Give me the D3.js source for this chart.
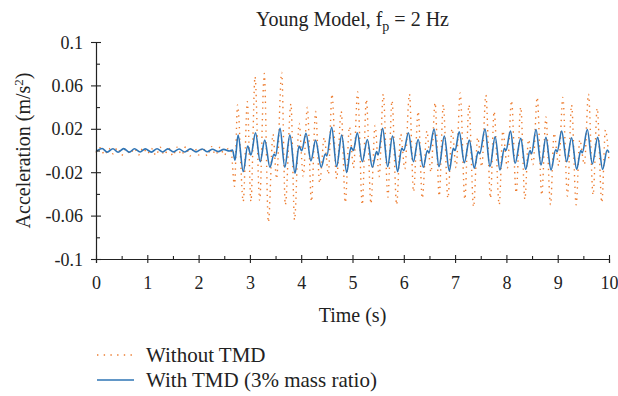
<!DOCTYPE html>
<html><head><meta charset="utf-8">
<script src="https://cdn.jsdelivr.net/npm/d3@7"></script>
<style>
html,body{margin:0;padding:0;background:#fff;}
svg text{font-family:"Liberation Serif","DejaVu Serif",serif;fill:#222;}
</style></head>
<body>
<svg id="chart" width="618" height="396"></svg>
<script>
// ---- data ----
const xTicks = [0,1,2,3,4,5,6,7,8,9,10];
const xMinorTicks = [0.5,1.5,2.5,3.5,4.5,5.5,6.5,7.5,8.5,9.5];
const yTicks = [0.1,0.06,0.02,-0.02,-0.06,-0.1];
const yTickLabels = ["0.1","0.06","0.02","-0.02","-0.06","-0.1"];
const yMinorTicks = [0.08,0.04,0,-0.04,-0.08];
const seriesNames = ["Without TMD","With TMD (3% mass ratio)"];

// With TMD: turning points (time s, acceleration m/s^2)
const withT = [0,0.12,0.22,0.33,0.43,0.54,0.65,0.75,0.86,0.96,1.08,1.19,1.30,1.40,1.51,1.62,1.73,1.84,1.95,2.07,2.17,2.27,2.38,2.49,2.60,2.66,
 2.71,2.77,2.87,2.957,3.02,3.11,3.20,3.29,3.39,3.47,3.50,3.587,3.68,3.78,3.88,3.957,4.01,4.094,4.19,4.28,4.39,4.47,4.50,4.594,
 4.69,4.79,4.887,4.97,5.016,5.094,5.19,5.29,5.386,5.47,5.50,5.587,5.685,5.78,5.88,5.96,6.00,6.09,6.186,6.28,6.38,6.46,6.49,6.59,
 6.686,6.79,6.887,6.965,7.00,7.08,7.18,7.277,7.374,7.45,7.48,7.583,7.68,7.78,7.875,7.96,7.99,8.08,8.17,8.28,8.376,8.46,8.49,8.577,
 8.675,8.77,8.87,8.96,8.99,9.077,9.175,9.27,9.37,9.45,9.48,9.577,9.675,9.78,9.875,9.965,10.0];
const withV = [-0.001,0.0018,-0.0015,0.0016,-0.0016,0.0017,-0.0015,0.0016,-0.0014,0.0015,-0.0015,0.0016,-0.0014,0.0015,-0.0013,0.0014,-0.0014,0.0015,-0.0013,0.0014,-0.0012,0.0012,-0.0010,0.0010,-0.0005,0.0004,
 -0.009,0.0142,-0.0194,0.0041,-0.0041,0.0163,-0.0103,0.0096,-0.0154,-0.0035,-0.005,0.0204,-0.0154,0.0142,-0.021,0.0041,-0.0002,0.0158,-0.0096,0.0096,-0.0154,-0.0032,-0.005,0.0213,
 -0.0148,0.0142,-0.0203,0.0029,0.0,0.0163,-0.0103,0.0102,-0.0154,-0.001,-0.004,0.0204,-0.0148,0.0133,-0.0194,0.002,0.0,0.0163,-0.0103,0.0102,-0.0154,0.0,-0.002,0.0197,
 -0.0148,0.0133,-0.0188,0.002,0.0,0.0173,-0.0112,0.0096,-0.0163,-0.001,-0.003,0.0197,-0.0148,0.0127,-0.0179,0.002,0.0,0.0179,-0.0118,0.0112,-0.0173,0.0,-0.003,0.0194,
 -0.0133,0.0121,-0.0179,0.0006,-0.001,0.0179,-0.0103,0.0118,-0.0173,0.0,-0.002,0.0194,-0.0124,0.0121,-0.0173,0.0005,-0.002];

// Without TMD: turning points (time s, acceleration m/s^2)
const withoutT = [0,0.08,0.17,0.25,0.33,0.42,0.50,0.58,0.67,0.75,0.83,0.92,1.00,1.08,1.17,1.25,1.33,1.42,1.50,1.58,1.67,1.75,1.83,1.92,2.00,2.08,2.17,2.25,2.33,2.42,2.50,2.58,2.63,
 2.70,2.76,2.87,2.95,3.02,3.10,3.19,3.28,3.36,3.45,3.52,3.62,3.69,3.80,3.87,3.96,4.04,4.12,4.20,4.28,4.36,4.45,4.53,4.60,4.69,4.78,4.86,4.94,
 5.02,5.10,5.19,5.27,5.36,5.44,5.52,5.60,5.69,5.77,5.86,5.94,6.02,6.11,6.19,6.28,6.36,6.45,6.53,6.61,6.69,6.77,6.86,6.94,7.02,7.10,7.19,7.27,
 7.36,7.44,7.52,7.60,7.69,7.76,7.86,7.93,8.02,8.10,8.19,8.28,8.36,8.43,8.52,8.60,8.69,8.77,8.86,8.93,9.02,9.10,9.19,9.27,9.36,9.43,9.52,9.60,
 9.69,9.77,9.86,9.93,10.0];
const withoutV = [-0.002,0.0025,-0.004,0.002,-0.003,0.0025,-0.0045,0.0015,-0.003,0.002,-0.004,0.0025,-0.003,0.002,-0.0045,0.003,-0.004,0.002,-0.005,0.003,-0.004,0.0035,-0.005,0.0025,-0.004,0.003,-0.005,0.0035,-0.004,0.003,-0.0045,0.002,0.001,
 -0.033,0.042,-0.047,0.045,-0.047,0.068,-0.046,0.071,-0.066,0.015,-0.026,0.072,-0.050,0.043,-0.064,0.025,-0.024,0.040,-0.047,0.036,-0.030,0.012,-0.022,0.052,-0.026,0.036,-0.048,0.022,
 -0.016,0.054,-0.050,0.047,-0.049,0.023,-0.024,0.052,-0.043,0.046,-0.050,0.015,-0.017,0.052,-0.038,0.036,-0.044,0.018,-0.020,0.044,-0.042,0.042,-0.044,0.020,-0.016,0.053,-0.045,0.042,
 -0.052,0.012,-0.015,0.051,-0.044,0.036,-0.050,0.018,-0.016,0.046,-0.039,0.040,-0.045,0.010,-0.013,0.049,-0.041,0.031,-0.050,0.016,-0.014,0.049,-0.042,0.042,-0.050,0.010,-0.013,0.052,
 -0.041,0.039,-0.048,0.019,-0.010];

// ---- drawing ----
const svg = d3.select("#chart");
const margin = {left:96, right:9, top:42, bottom:137};
const W = 618, H = 396;
const x = d3.scaleLinear().domain([0,10]).range([margin.left, W - margin.right]);
const y = d3.scaleLinear().domain([-0.1,0.1]).range([H - margin.bottom, margin.top]);

const orange = "#ED7D31", blue = "#2E74B5", axisCol = "#222";
const FONT = "Liberation Serif, serif";

// series
const line = d3.line().x(d=>x(d[0])).y(d=>y(d[1])).curve(d3.curveMonotoneX);
const withoutData = withoutT.map((t,i)=>[t, withoutV[i]]);
const withData = withT.map((t,i)=>[t, withV[i]]);

svg.append("path").datum(withoutData).attr("d", line)
  .attr("fill","none").attr("stroke",orange).attr("stroke-width",1.4)
  .attr("stroke-dasharray","1.4,4.4");
svg.append("path").datum(withData).attr("d", line)
  .attr("fill","none").attr("stroke",blue).attr("stroke-width",1.6);

// y axis
const yAxis = svg.append("g").attr("transform",`translate(${x(0)},0)`)
  .call(d3.axisLeft(y).tickValues(yTicks).tickSize(5).tickPadding(8)
        .tickFormat((d,i)=>yTickLabels[i]));
yAxis.selectAll(".tick line").attr("x1",5);
yAxis.selectAll(".tick text").attr("dy","0.34em");
const yMinor = svg.append("g").attr("transform",`translate(${x(0)},0)`)
  .call(d3.axisRight(y).tickValues(yMinorTicks).tickSize(4).tickFormat(""));
yMinor.select(".domain").remove();

// x axis
const xAxis = svg.append("g").attr("transform",`translate(0,${y(-0.1)})`)
  .call(d3.axisBottom(x).tickValues(xTicks).tickSize(4).tickPadding(8).tickFormat(d3.format("d")));
xAxis.selectAll(".tick line").attr("y1",-4);
xAxis.selectAll(".tick text").attr("y",17).attr("dy","0.71em");
const xMinor = svg.append("g").attr("transform",`translate(0,${y(-0.1)})`)
  .call(d3.axisTop(x).tickValues(xMinorTicks).tickSize(3).tickFormat(""));
xMinor.select(".domain").remove();

svg.selectAll(".domain").attr("stroke",axisCol).attr("stroke-width",1.2);
svg.selectAll(".tick line").attr("stroke",axisCol).attr("stroke-width",1.1);
svg.selectAll(".tick text").attr("font-size",18).attr("font-family",FONT).attr("fill","#222");

// title
const title = svg.append("text").attr("x",(x(0)+x(10))/2).attr("y",26)
  .attr("text-anchor","middle").attr("font-size",20);
title.append("tspan").text("Young Model, f");
title.append("tspan").attr("font-size",14).attr("dy",5).text("p");
title.append("tspan").attr("dy",-5).text(" = 2 Hz");

// axis titles
svg.append("text").attr("x",(x(0)+x(10))/2).attr("y",322).attr("text-anchor","middle")
  .attr("font-size",20).text("Time (s)");
const yl = svg.append("text").attr("transform",`translate(30,${y(0)}) rotate(-90)`)
  .attr("text-anchor","middle").attr("font-size",20);
yl.append("tspan").text("Acceleration (m/s");
yl.append("tspan").attr("font-size",13).attr("dy",-7).text("2");
yl.append("tspan").attr("dy",7).text(")");

// legend
const legend = svg.append("g");
const legItems = [
  {name: seriesNames[0], color: orange, dash: "1.4,5.3", y: 355},
  {name: seriesNames[1], color: blue, dash: null, y: 380}
];
legItems.forEach(it=>{
  const l = legend.append("line").attr("x1",97).attr("x2",134).attr("y1",it.y).attr("y2",it.y)
    .attr("stroke",it.color).attr("stroke-width",it.dash?1.4:1.6);
  if (it.dash) l.attr("stroke-dasharray",it.dash);
  legend.append("text").attr("x",146).attr("y",it.y+7).attr("font-size",21).text(it.name);
});
</script>
</body></html>
